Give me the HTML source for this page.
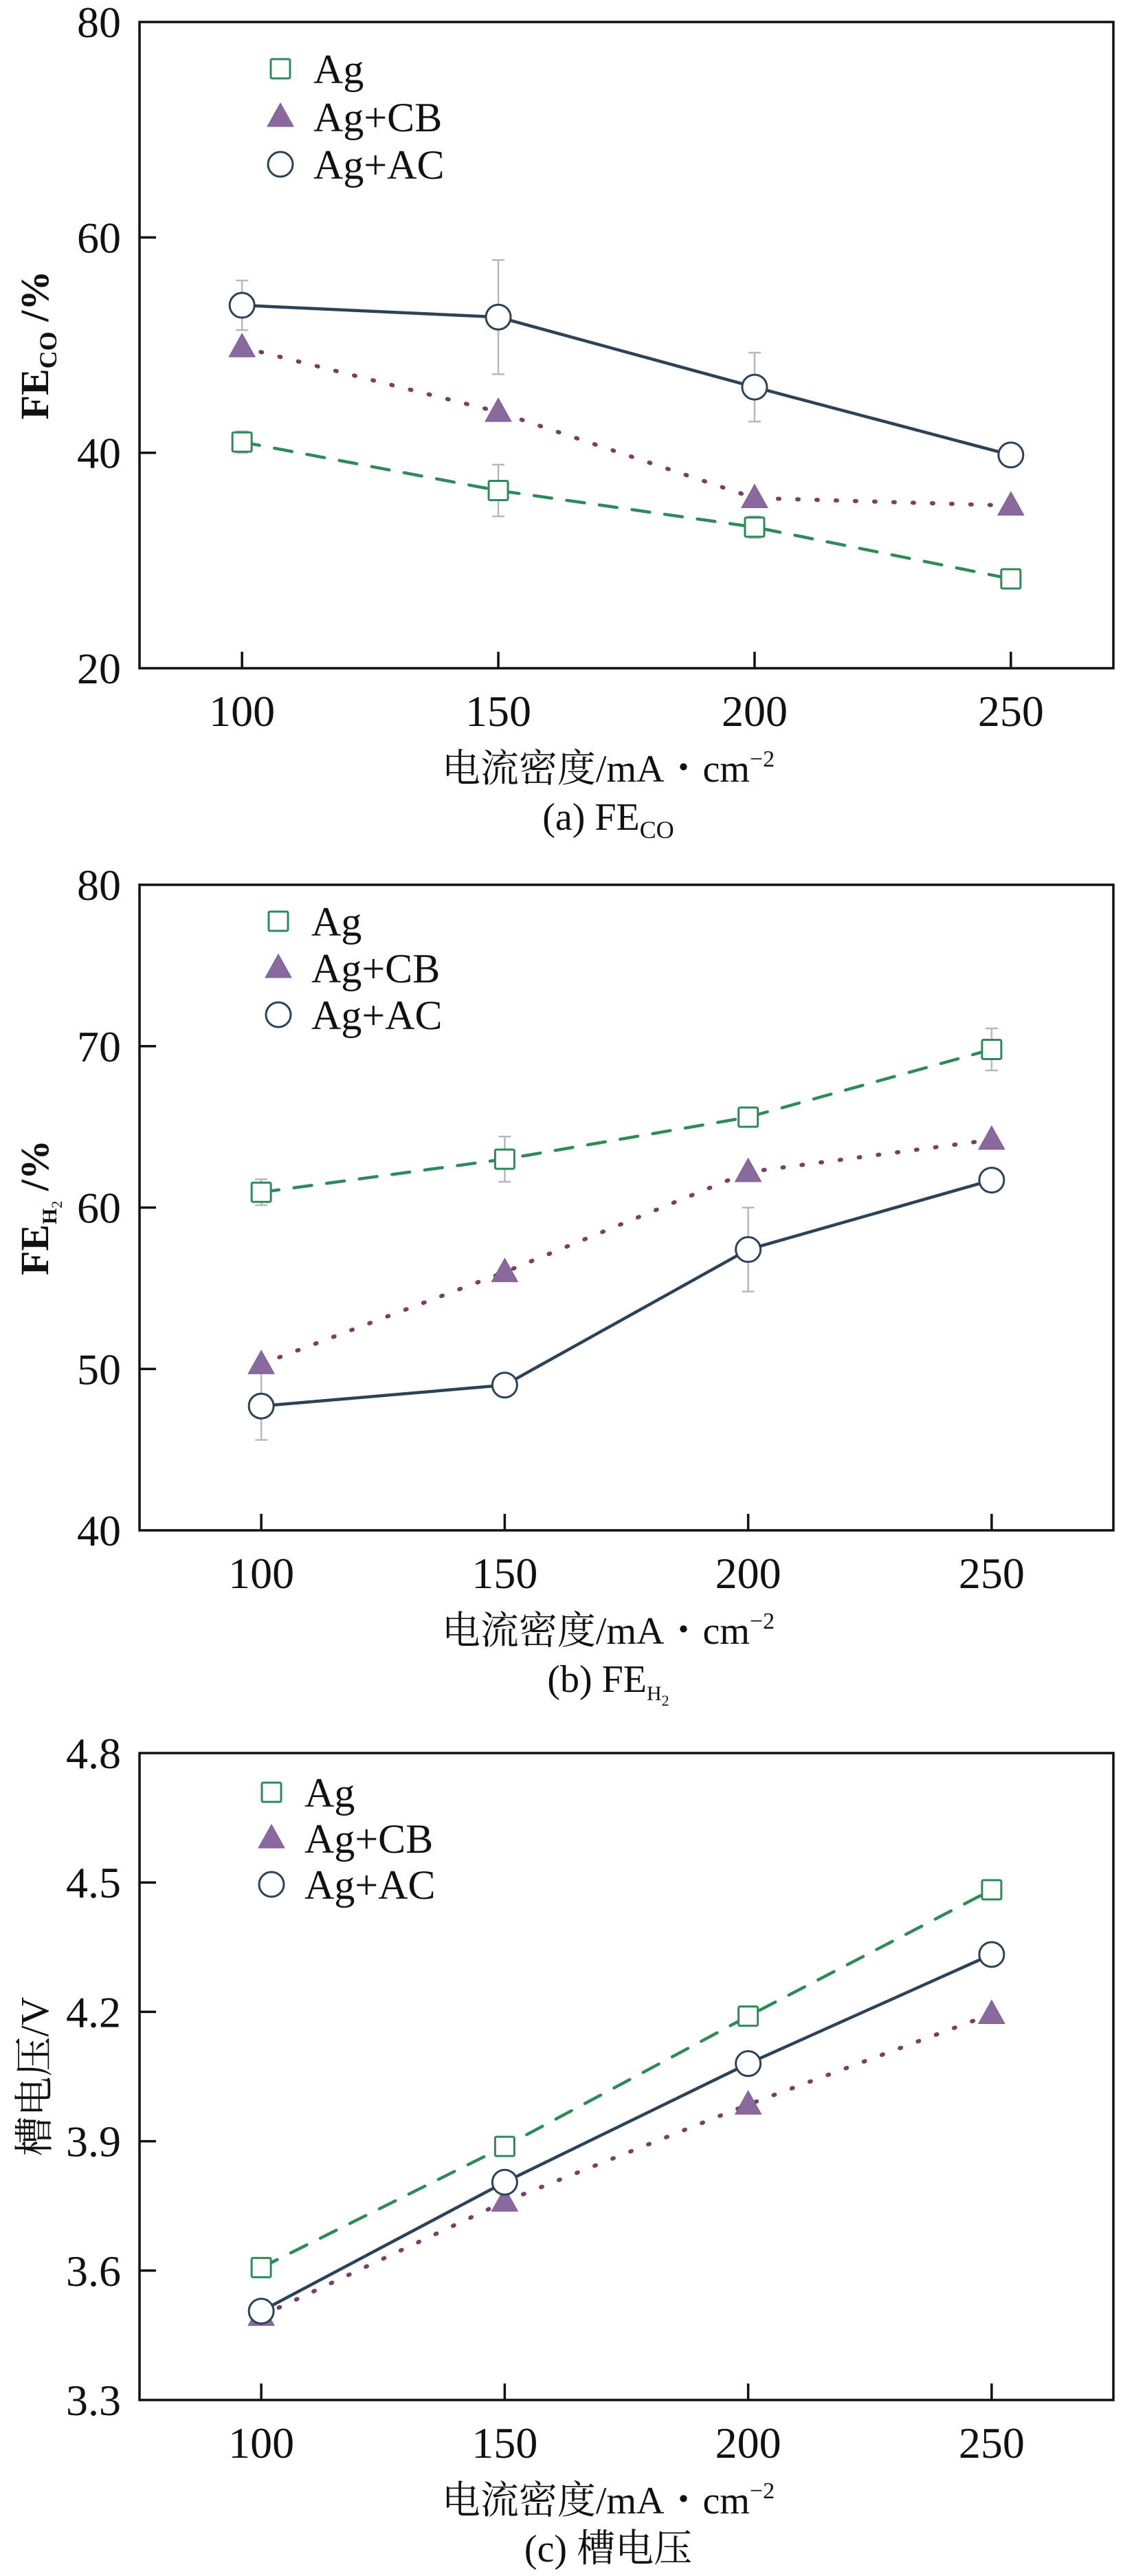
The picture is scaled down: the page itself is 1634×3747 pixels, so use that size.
<!DOCTYPE html>
<html><head><meta charset="utf-8">
<style>
html,body{margin:0;padding:0;background:#fff;}
svg{display:block;font-family:"Liberation Serif","Noto Serif CJK SC","Noto Sans CJK SC",serif;}
svg text{font-family:"Liberation Serif","Noto Serif CJK SC","Noto Sans CJK SC",serif;}
</style></head>
<body>
<svg id="fig" width="1634" height="3747" viewBox="0 0 1634 3747" xmlns="http://www.w3.org/2000/svg"></svg>
<script>
const categories = [100, 150, 200, 250];
// chart (a) FE_CO
const coAg = [41.0, 36.5, 33.1, 28.3];
const coCB = [49.8, 43.8, 35.8, 35.1];
const coAC = [53.7, 52.6, 46.1, 39.8];
const coAgErr = [1.0, 2.4, 1.0, 0.5];
const coACErr = [2.3, 5.3, 3.2, 0.5];
const coTicks = [20, 40, 60, 80];
// chart (b) FE_H2
const hAg = [60.95, 63.0, 65.6, 69.8];
const hCB = [50.3, 56.0, 62.2, 64.2];
const hAC = [47.7, 49.0, 57.4, 61.7];
const hAgErr = [0.8, 1.4, 0.6, 1.3];
const hACErr = [2.1, 0.5, 2.6, 0.7];
const hTicks = [40, 50, 60, 70, 80];
// chart (c) cell voltage
const vAg = [3.607, 3.888, 4.19, 4.483];
const vCB = [3.495, 3.76, 3.985, 4.195];
const vAC = [3.506, 3.805, 4.08, 4.333];
const vTicks = [3.3, 3.6, 3.9, 4.2, 4.5, 4.8];
const vTickLabels = ["3.3", "3.6", "3.9", "4.2", "4.5", "4.8"];
const legendLabels = ["Ag", "Ag+CB", "Ag+AC"];

const NS = "http://www.w3.org/2000/svg";
const svg = document.getElementById("fig");
function mk(tag, attrs, parent) {
  const e = document.createElementNS(NS, tag);
  for (const k in attrs) e.setAttribute(k, attrs[k]);
  (parent || svg).appendChild(e);
  return e;
}
const GREEN = "#2f8a5a", PURPLE = "#8a6a9e", PURPLE_LINE = "#7a3f66", NAVY = "#2c4257", ERR = "#b8b8b8";

function square(g, x, y) {
  const s = mk("rect", {x: x - 14, y: y - 14, width: 28, height: 28, fill: "#fff", stroke: GREEN, "stroke-width": 3, rx: 2}, g);
  
  
}
function tri(g, x, y) {
  const t = mk("polygon", {points: `${x},${y - 20} ${x - 19},${y + 14} ${x + 19},${y + 14}`, fill: PURPLE, stroke: "#7a5a90", "stroke-width": 1}, g);
  
  
}
function circ(g, x, y) {
  const c = mk("circle", {cx: x, cy: y, r: 18, fill: "#fff", stroke: NAVY, "stroke-width": 3}, g);
  
  
}

function chart(cfg) {
  const g = mk("g", {});
  
  
  const L = 203, R = 1620, T = cfg.top, B = cfg.bottom;
  const xs = v => L + (v - cfg.xmin) / (cfg.xmax - cfg.xmin) * (R - L);
  const ys = v => B - (v - cfg.ymin) / (cfg.ymax - cfg.ymin) * (B - T);
  const fr = mk("rect", {x: L, y: T, width: R - L, height: B - T, fill: "none", stroke: "#111", "stroke-width": 3.5}, g);
  
  
  categories.forEach(c => {
    const tk = mk("line", {x1: xs(c), x2: xs(c), y1: B, y2: B - 24, stroke: "#111", "stroke-width": 3.5}, g);
    
    
    const t = mk("text", {x: xs(c), y: B + 84, "font-size": 64, "text-anchor": "middle", fill: "#111"}, g);
    t.textContent = c;
    
    
  });
  cfg.yticks.forEach((v, i) => {
    if (v !== cfg.ymin && v !== cfg.ymax) {
      const tk = mk("line", {x1: L, x2: L + 24, y1: ys(v), y2: ys(v), stroke: "#111", "stroke-width": 3.5}, g);
      
      
    }
    const t = mk("text", {x: 176, y: ys(v) + 22, "font-size": 64, "text-anchor": "end", fill: "#111"}, g);
    t.textContent = cfg.ylabels ? cfg.ylabels[i] : v;
    
    
  });
  function errs(vals, e, color) {
    if (!e) return;
    vals.forEach((v, i) => {
      const x = xs(categories[i]);
      const eb = mk("path", {d: `M${x},${ys(v + e[i])}V${ys(v - e[i])}M${x - 9},${ys(v + e[i])}H${x + 9}M${x - 9},${ys(v - e[i])}H${x + 9}`, stroke: color, "stroke-width": 2.5, fill: "none"}, g);
      
      
    });
  }
  errs(cfg.ag, cfg.agErr, ERR);
  errs(cfg.ac, cfg.acErr, ERR);
  function line(vals, color, dash, w, name) {
    const d = vals.map((v, i) => (i ? "L" : "M") + xs(categories[i]) + "," + ys(v)).join("");
    const p = mk("path", {d: d, stroke: color, "stroke-width": w, fill: "none", "stroke-dasharray": dash, "stroke-linecap": "round"}, g);
    
    
  }
  line(cfg.ag, GREEN, "26,22", 4.5, "ag-line");
  line(cfg.cb, PURPLE_LINE, "2,26", 6, "ag-cb-line");
  line(cfg.ac, NAVY, "none", 4.5, "ag-ac-line");
  cfg.ag.forEach((v, i) => square(g, xs(categories[i]), ys(v)));
  cfg.cb.forEach((v, i) => tri(g, xs(categories[i]), ys(v)));
  cfg.ac.forEach((v, i) => circ(g, xs(categories[i]), ys(v)));
  const lg = mk("g", {}, g);
  
  
  const ly = cfg.legendY, lx = cfg.legendX;
  square(lg, lx, ly[0]);
  tri(lg, lx, ly[1]);
  circ(lg, lx, ly[2]);
  legendLabels.forEach((s, i) => {
    const t = mk("text", {x: lx + 48, y: ly[i] + 21, "font-size": 60, fill: "#111"}, lg);
    t.textContent = s;
    
    
  });
  const yt = mk("text", {transform: `translate(70,${(T + B) / 2}) rotate(-90)`, "font-size": 58, "text-anchor": "middle", fill: "#111"}, g);
  yt.innerHTML = cfg.ytitle;
  
  
  const xt = mk("text", {x: 885, y: B + 165, "font-size": 56, "text-anchor": "middle", fill: "#111"}, g);
  xt.innerHTML = '电流密度/mA・cm<tspan dy="-22" font-size="34">−2</tspan>';
  
  
  const cp = mk("text", {x: 885, y: B + 235, "font-size": 56, "text-anchor": "middle", fill: "#111"}, g);
  cp.innerHTML = cfg.caption;
  
  
}

chart({name: "chart-fe-co", top: 32, bottom: 972, xmin: 80, xmax: 270, ymin: 20, ymax: 80,
  yticks: coTicks, ag: coAg, cb: coCB, ac: coAC, agErr: coAgErr, acErr: coACErr,
  legendX: 408, legendY: [100, 170, 239],
  ytitle: '<tspan font-weight="bold">FE</tspan><tspan font-size="36" dy="12" font-weight="bold">CO</tspan><tspan dy="-12" font-weight="bold"> /%</tspan>',
  caption: '(a) FE<tspan font-size="36" dy="12">CO</tspan>'});
chart({name: "chart-fe-h2", top: 1287, bottom: 2226, xmin: 75, xmax: 275, ymin: 40, ymax: 80,
  yticks: hTicks, ag: hAg, cb: hCB, ac: hAC, agErr: hAgErr, acErr: hACErr,
  legendX: 405, legendY: [1340, 1408, 1476],
  ytitle: '<tspan font-weight="bold">FE</tspan><tspan font-size="30" dy="12" font-weight="bold">H</tspan><tspan font-size="22" dy="8">2</tspan><tspan dy="-20" font-weight="bold"> /%</tspan>',
  caption: '(b) FE<tspan font-size="30" dy="12">H</tspan><tspan font-size="22" dy="8">2</tspan>'});
chart({name: "chart-cell-voltage", top: 2550, bottom: 3491, xmin: 75, xmax: 275, ymin: 3.3, ymax: 4.8,
  yticks: vTicks, ylabels: vTickLabels, ag: vAg, cb: vCB, ac: vAC, agErr: null, acErr: null,
  legendX: 395, legendY: [2607, 2674, 2741],
  ytitle: '槽电压/V',
  caption: '(c) 槽电压'});
</script>
</body></html>
